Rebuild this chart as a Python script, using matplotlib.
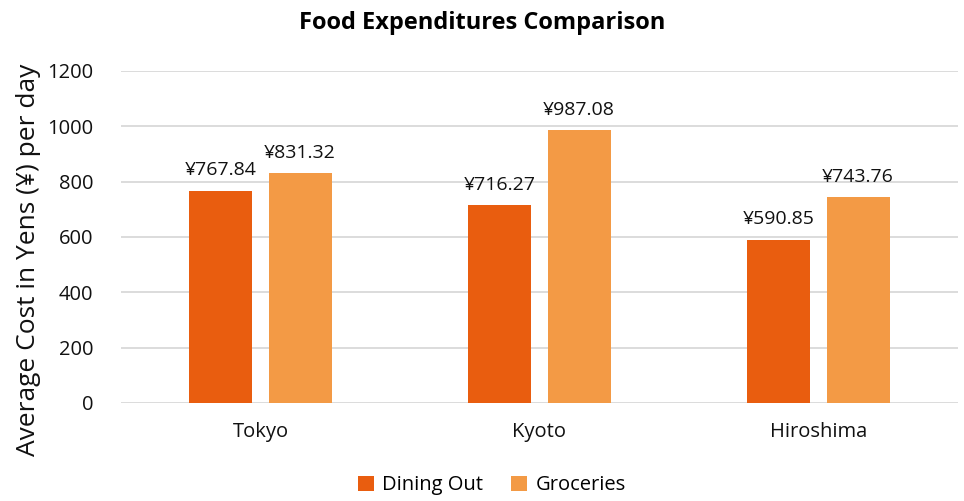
import matplotlib.pyplot as plt
import numpy as np

plt.rcParams['font.family'] = ['Open Sans', 'DejaVu Sans']

cities = ['Tokyo', 'Kyoto', 'Hiroshima']
dining_out = [767.84, 716.27, 590.85]
groceries = [831.32, 987.08, 743.76]
yticks = [0, 200, 400, 600, 800, 1000, 1200]

fig = plt.figure(figsize=(9.64, 5.01), dpi=100)
ax = fig.add_axes([121 / 964, 1 - 403 / 501, (958 - 121) / 964, (403 - 71) / 501])

x = np.arange(len(cities))
w = 0.226
off = 0.142
b1 = ax.bar(x - off, dining_out, w, color='#E95D0F', label='Dining Out', zorder=3)
b2 = ax.bar(x + off, groceries, w, color='#F39A45', label='Groceries', zorder=3)

for bars, vals in [(b1, dining_out), (b2, groceries)]:
    for rect, v in zip(bars, vals):
        ax.annotate('¥%.2f' % v, (rect.get_x() + rect.get_width() / 2, v),
                    xytext=(0, 8), textcoords='offset points',
                    ha='center', va='bottom', fontsize=14, color='#111111')

ax.set_xlim(-0.5, 2.5)
ax.set_ylim(0, 1200)
ax.set_yticks(yticks)
ax.set_xticks(x)
ax.set_xticklabels(cities)
ax.tick_params(axis='both', length=0, labelsize=14.5, colors='#111111')
ax.tick_params(axis='y', pad=20)
ax.tick_params(axis='x', pad=14)
ax.grid(axis='y', color='#D9D9D9', linewidth=1.3, zorder=0)
for s in ax.spines.values():
    s.set_visible(False)

ax.set_ylabel('Average Cost in Yens (¥) per day', fontsize=19, color='#111111')
ax.yaxis.set_label_coords(-0.095, 0.43)
fig.suptitle('Food Expenditures Comparison', fontsize=17, fontweight='bold', y=0.978)

fig.legend(loc='lower center', ncol=2, frameon=False, fontsize=14.5,
           bbox_to_anchor=(0.51, -0.025), handlelength=0.8,
           handleheight=0.8, handletextpad=0.4, columnspacing=1.4)

fig.savefig('out.png', dpi=100)
